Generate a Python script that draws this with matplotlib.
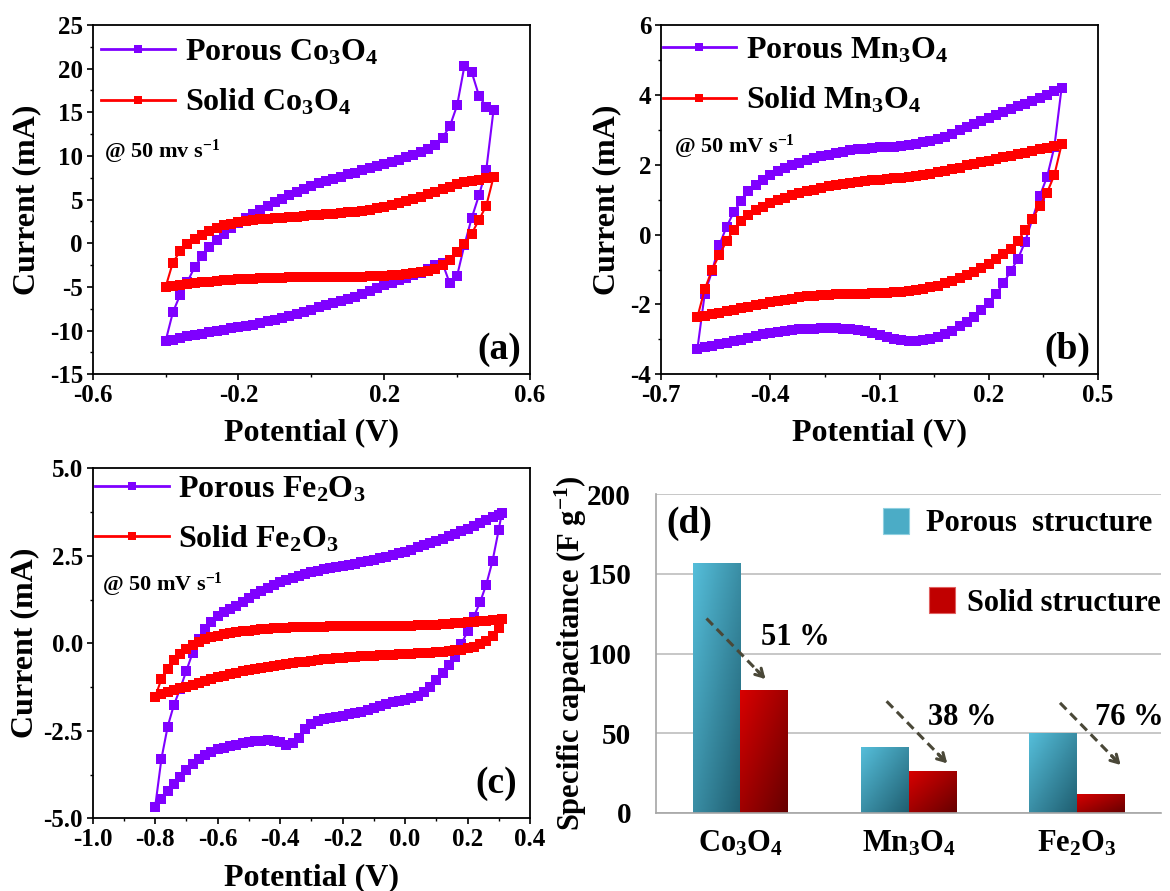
import numpy as np
import matplotlib
matplotlib.use('Agg')
import matplotlib.pyplot as plt
from matplotlib.ticker import AutoMinorLocator
from matplotlib.colors import LinearSegmentedColormap
from matplotlib.patches import Rectangle

plt.rcParams['font.family'] = 'Liberation Serif'
plt.rcParams['font.weight'] = 'bold'
plt.rcParams['axes.labelweight'] = 'bold'
plt.rcParams['mathtext.fontset'] = 'custom'
plt.rcParams['mathtext.rm'] = 'Liberation Serif:bold'
plt.rcParams['mathtext.it'] = 'Liberation Serif:bold'
plt.rcParams['mathtext.bf'] = 'Liberation Serif:bold'
plt.rcParams['axes.unicode_minus'] = False

# %% data
# (a) Co3O4 CV, potential grid (V) and current (mA): forward sweep and return sweep
E_a = [-0.40, -0.38, -0.36, -0.34, -0.32, -0.30, -0.28, -0.26, -0.24, -0.22,
       -0.20, -0.18, -0.16, -0.14, -0.12, -0.10, -0.08, -0.06, -0.04, -0.02,
       0.00, 0.02, 0.04, 0.06, 0.08, 0.10, 0.12, 0.14, 0.16, 0.18,
       0.20, 0.22, 0.24, 0.26, 0.28, 0.30, 0.32, 0.34, 0.36, 0.38,
       0.40, 0.42, 0.44, 0.46, 0.48, 0.50]
porous_co_fwd = [-11.2, -7.9, -5.9, -4.4, -2.7, -1.5, -0.45, 0.38, 1.05, 1.7,
                 2.3, 2.85, 3.4, 3.85, 4.25, 4.7, 5.1, 5.5, 5.9, 6.25,
                 6.6, 6.9, 7.15, 7.4, 7.65, 7.9, 8.1, 8.35, 8.6, 8.85,
                 9.1, 9.3, 9.55, 9.85, 10.15, 10.45, 10.8, 11.3, 12.1, 13.4,
                 15.8, 20.3, 19.6, 16.9, 15.6, 15.3]
porous_co_rev = [-11.2, -11.05, -10.85, -10.65, -10.5, -10.35, -10.2, -10.05, -9.9, -9.75,
                 -9.6, -9.45, -9.3, -9.15, -8.95, -8.75, -8.55, -8.35, -8.1, -7.85,
                 -7.6, -7.35, -7.1, -6.85, -6.6, -6.35, -6.1, -5.8, -5.45, -5.1,
                 -4.8, -4.5, -4.2, -3.95, -3.65, -3.35, -2.95, -2.45, -2.3, -4.6,
                 -3.7, -0.2, 2.9, 5.5, 8.4, 15.3]
solid_co_fwd = [-5.0, -2.2, -0.9, -0.1, 0.5, 1.0, 1.42, 1.77, 2.05, 2.25,
                2.43, 2.58, 2.67, 2.75, 2.83, 2.9, 2.95, 3.0, 3.05, 3.12,
                3.2, 3.27, 3.34, 3.4, 3.47, 3.53, 3.6, 3.68, 3.85, 4.03,
                4.2, 4.37, 4.6, 4.85, 5.1, 5.35, 5.6, 5.9, 6.2, 6.5,
                6.8, 7.0, 7.15, 7.3, 7.45, 7.6]
solid_co_rev = [-5.0, -4.85, -4.72, -4.62, -4.52, -4.45, -4.38, -4.3, -4.24, -4.18,
                -4.13, -4.08, -4.04, -4.0, -3.97, -3.95, -3.93, -3.91, -3.9, -3.89,
                -3.88, -3.88, -3.88, -3.88, -3.87, -3.86, -3.85, -3.83, -3.8, -3.76,
                -3.72, -3.66, -3.6, -3.52, -3.42, -3.3, -3.15, -2.9, -2.5, -1.95,
                -1.0, -0.1, 1.1, 2.7, 4.3, 7.6]

# (b) Mn3O4 CV
E_b = [-0.60, -0.58, -0.56, -0.54, -0.52, -0.50, -0.48, -0.46, -0.44, -0.42,
       -0.40, -0.38, -0.36, -0.34, -0.32, -0.30, -0.28, -0.26, -0.24, -0.22,
       -0.20, -0.18, -0.16, -0.14, -0.12, -0.10, -0.08, -0.06, -0.04, -0.02,
       0.00, 0.02, 0.04, 0.06, 0.08, 0.10, 0.12, 0.14, 0.16, 0.18,
       0.20, 0.22, 0.24, 0.26, 0.28, 0.30, 0.32, 0.34, 0.36, 0.38, 0.40]
porous_mn_fwd = [-3.27, -1.7, -1.05, -0.3, 0.22, 0.65, 0.96, 1.24, 1.42, 1.57,
                 1.71, 1.82, 1.91, 1.99, 2.06, 2.13, 2.19, 2.24, 2.29, 2.33,
                 2.37, 2.41, 2.44, 2.46, 2.48, 2.5, 2.51, 2.52, 2.54, 2.57,
                 2.6, 2.64, 2.69, 2.74, 2.8, 2.88, 2.98, 3.07, 3.17, 3.26,
                 3.34, 3.43, 3.51, 3.59, 3.67, 3.75, 3.83, 3.92, 4.0, 4.1, 4.2]
porous_mn_rev = [-3.27, -3.23, -3.19, -3.14, -3.1, -3.06, -3.02, -2.96, -2.9, -2.86,
                 -2.83, -2.8, -2.77, -2.74, -2.71, -2.7, -2.69, -2.68, -2.68, -2.68,
                 -2.69, -2.7, -2.73, -2.77, -2.82, -2.87, -2.93, -2.98, -3.02, -3.04,
                 -3.04, -3.03, -3.0, -2.94, -2.86, -2.75, -2.63, -2.5, -2.35, -2.17,
                 -1.95, -1.7, -1.4, -1.05, -0.7, -0.2, 0.45, 1.1, 1.65, 2.5, 4.2]
solid_mn_fwd = [-2.36, -1.57, -1.01, -0.58, -0.19, 0.14, 0.4, 0.56, 0.69, 0.8,
                0.9, 0.98, 1.05, 1.12, 1.18, 1.24, 1.29, 1.34, 1.38, 1.42,
                1.45, 1.48, 1.51, 1.53, 1.55, 1.57, 1.59, 1.61, 1.63, 1.65,
                1.68, 1.71, 1.74, 1.78, 1.83, 1.87, 1.92, 1.98, 2.03, 2.08,
                2.12, 2.17, 2.22, 2.26, 2.3, 2.34, 2.39, 2.44, 2.49, 2.54, 2.58]
solid_mn_rev = [-2.36, -2.32, -2.28, -2.24, -2.2, -2.15, -2.1, -2.06, -2.02, -1.98,
                -1.94, -1.9, -1.86, -1.83, -1.8, -1.77, -1.75, -1.73, -1.72, -1.71,
                -1.7, -1.7, -1.69, -1.69, -1.68, -1.67, -1.66, -1.65, -1.63, -1.61,
                -1.58, -1.55, -1.51, -1.46, -1.4, -1.33, -1.25, -1.16, -1.06, -0.95,
                -0.83, -0.7, -0.55, -0.4, -0.18, 0.13, 0.45, 0.82, 1.2, 1.7, 2.58]

# (c) Fe2O3 CV
E_c = [-0.80, -0.78, -0.76, -0.74, -0.72, -0.70, -0.68, -0.66, -0.64, -0.62,
       -0.60, -0.58, -0.56, -0.54, -0.52, -0.50, -0.48, -0.46, -0.44, -0.42,
       -0.40, -0.38, -0.36, -0.34, -0.32, -0.30, -0.28, -0.26, -0.24, -0.22,
       -0.20, -0.18, -0.16, -0.14, -0.12, -0.10, -0.08, -0.06, -0.04, -0.02,
       0.00, 0.02, 0.04, 0.06, 0.08, 0.10, 0.12, 0.14, 0.16, 0.18,
       0.20, 0.22, 0.24, 0.26, 0.28, 0.30, 0.31]
porous_fe_fwd = [-4.67, -3.3, -2.38, -1.76, -1.3, -0.78, -0.27, 0.12, 0.41, 0.61,
                 0.78, 0.9, 0.99, 1.08, 1.17, 1.3, 1.4, 1.5, 1.59, 1.67,
                 1.74, 1.81, 1.87, 1.93, 1.98, 2.03, 2.07, 2.11, 2.15, 2.19,
                 2.22, 2.25, 2.28, 2.31, 2.35, 2.39, 2.43, 2.47, 2.52, 2.57,
                 2.62, 2.68, 2.74, 2.8, 2.86, 2.92, 2.99, 3.06, 3.13, 3.2,
                 3.28, 3.36, 3.44, 3.52, 3.6, 3.68, 3.73]
porous_fe_rev = [-4.67, -4.45, -4.23, -4.02, -3.82, -3.63, -3.45, -3.3, -3.19, -3.1,
                 -3.03, -2.98, -2.94, -2.9, -2.86, -2.83, -2.8, -2.78, -2.77, -2.78,
                 -2.82, -2.9, -2.86, -2.7, -2.45, -2.3, -2.22, -2.17, -2.13, -2.1,
                 -2.07, -2.03, -1.99, -1.95, -1.91, -1.86, -1.8, -1.74, -1.69, -1.65,
                 -1.61, -1.57, -1.51, -1.4, -1.25, -1.06, -0.84, -0.62, -0.38, -0.02,
                 0.34, 0.76, 1.17, 1.68, 2.35, 3.25, 3.73]
solid_fe_fwd = [-1.53, -1.02, -0.72, -0.47, -0.3, -0.17, -0.06, 0.04, 0.11, 0.17,
                0.22, 0.26, 0.29, 0.32, 0.34, 0.36, 0.38, 0.4, 0.42, 0.43,
                0.44, 0.45, 0.46, 0.47, 0.47, 0.48, 0.48, 0.48, 0.49, 0.49,
                0.49, 0.49, 0.49, 0.49, 0.49, 0.49, 0.49, 0.49, 0.49, 0.49,
                0.49, 0.5, 0.51, 0.52, 0.52, 0.53, 0.55, 0.56, 0.58, 0.59,
                0.6, 0.62, 0.63, 0.65, 0.66, 0.68, 0.7]
solid_fe_rev = [-1.53, -1.46, -1.4, -1.34, -1.29, -1.24, -1.18, -1.13, -1.07, -1.02,
                -0.97, -0.92, -0.88, -0.84, -0.8, -0.77, -0.73, -0.7, -0.67, -0.64,
                -0.61, -0.59, -0.56, -0.54, -0.52, -0.5, -0.48, -0.46, -0.44, -0.43,
                -0.41, -0.4, -0.38, -0.37, -0.36, -0.35, -0.34, -0.33, -0.32, -0.31,
                -0.31, -0.3, -0.29, -0.28, -0.27, -0.26, -0.24, -0.22, -0.2, -0.18,
                -0.14, -0.1, -0.03, 0.08, 0.2, 0.45, 0.7]

# (d) specific capacitance (F/g)
materials = ['Co$_3$O$_4$', 'Mn$_3$O$_4$', 'Fe$_2$O$_3$']
porous_cap = [157, 41, 50]
solid_cap = [77, 26, 12]
drop_labels = ['51 %', '38 %', '76 %']
arrow_from = [(-0.20, 122), (0.87, 70), (1.90, 69)]
arrow_to = [(0.15, 84), (1.23, 31), (2.26, 30)]
drop_label_pos = [(0.33, 110), (1.32, 60), (2.31, 60)]

# %% styling
purple = '#7F00FF'
red = '#FF0000'
W, H = 1170, 891


def px_axes(left, top, right, bottom):
    return fig.add_axes([left / W, 1 - bottom / H, (right - left) / W, (bottom - top) / H])


def draw_cv(ax, E, fwd, rev, color, label):
    x = E + E[::-1]
    y = fwd + rev[::-1]
    ax.plot(x, y, color=color, lw=1.5, marker='s', ms=7.5, mew=0, label=label)


def style_cv(ax, xlim, xticks, xlabels, ylim, yticks, ylabels, ylab_x, xlab_y):
    ax.set_xlim(xlim)
    ax.set_ylim(ylim)
    ax.set_xticks(xticks, xlabels)
    ax.set_yticks(yticks, ylabels)
    ax.xaxis.set_minor_locator(AutoMinorLocator(2))
    ax.yaxis.set_minor_locator(AutoMinorLocator(2))
    ax.tick_params(which='major', direction='out', length=4, width=1.2, labelsize=18, pad=3)
    ax.tick_params(which='minor', direction='out', length=2.2, width=1.0)
    for sp in ax.spines.values():
        sp.set_linewidth(1.3)
    ax.set_xlabel('Potential (V)', fontsize=23)
    ax.set_ylabel('Current (mA)', fontsize=23)
    ax.xaxis.label.set_va('center')
    ax.yaxis.label.set_va('center')
    ax.xaxis.set_label_coords(0.5, xlab_y)
    ax.yaxis.set_label_coords(ylab_x, 0.5)


def cv_legend(ax, x0, y0):
    leg = ax.legend(loc='upper left', bbox_to_anchor=(x0, y0), frameon=False, fontsize=23,
                    handlelength=2.3, handletextpad=0.3, labelspacing=0.62, borderpad=0,
                    borderaxespad=0, numpoints=1, markerscale=0.85)
    for ln in leg.get_lines():
        ln.set_linewidth(2.0)


fig = plt.figure(figsize=(W / 100, H / 100), dpi=100)

# (a)
ax = px_axes(92.7, 25, 530, 374.3)
draw_cv(ax, E_a, porous_co_fwd, porous_co_rev, purple, 'Porous Co$_3$O$_4$')
draw_cv(ax, E_a, solid_co_fwd, solid_co_rev, red, 'Solid Co$_3$O$_4$')
style_cv(ax, (-0.6, 0.6), [-0.6, -0.2, 0.2, 0.6], ['-0.6', '-0.2', '0.2', '0.6'],
         (-15, 25), [-15, -10, -5, 0, 5, 10, 15, 20, 25],
         ['-15', '-10', '-5', '0', '5', '10', '15', '20', '25'], -0.150, -0.168)
cv_legend(ax, 0.02, 0.963)
ax.text(0.025, 0.637, '@ 50 mv s$^{-1}$', transform=ax.transAxes, fontsize=16, va='center')
ax.text(0.929, 0.07, '(a)', transform=ax.transAxes, fontsize=27, ha='center', va='center')

# (b)
ax = px_axes(661, 25, 1098, 374.3)
draw_cv(ax, E_b, porous_mn_fwd, porous_mn_rev, purple, 'Porous Mn$_3$O$_4$')
draw_cv(ax, E_b, solid_mn_fwd, solid_mn_rev, red, 'Solid Mn$_3$O$_4$')
style_cv(ax, (-0.7, 0.5), [-0.7, -0.4, -0.1, 0.2, 0.5], ['-0.7', '-0.4', '-0.1', '0.2', '0.5'],
         (-4, 6), [-4, -2, 0, 2, 4, 6], ['-4', '-2', '0', '2', '4', '6'], -0.125, -0.168)
cv_legend(ax, 0.004, 0.968)
ax.text(0.03, 0.651, '@ 50 mV s$^{-1}$', transform=ax.transAxes, fontsize=16, va='center')
ax.text(0.929, 0.07, '(b)', transform=ax.transAxes, fontsize=27, ha='center', va='center')

# (c)
ax = px_axes(92.7, 468.3, 530, 818.3)
draw_cv(ax, E_c, porous_fe_fwd, porous_fe_rev, purple, 'Porous Fe$_2$O$_3$')
draw_cv(ax, E_c, solid_fe_fwd, solid_fe_rev, red, 'Solid Fe$_2$O$_3$')
style_cv(ax, (-1.0, 0.4), [-1.0, -0.8, -0.6, -0.4, -0.2, 0.0, 0.2, 0.4],
         ['-1.0', '-0.8', '-0.6', '-0.4', '-0.2', '0.0', '0.2', '0.4'],
         (-5, 5), [-5, -2.5, 0, 2.5, 5], ['-5.0', '-2.5', '0.0', '2.5', '5.0'], -0.156, -0.171)
cv_legend(ax, 0.006, 0.982)
ax.text(0.021, 0.667, '@ 50 mV s$^{-1}$', transform=ax.transAxes, fontsize=16, va='center')
ax.text(0.922, 0.10, '(c)', transform=ax.transAxes, fontsize=27, ha='center', va='center')

# (d)
ax = px_axes(656, 494.3, 1161, 812.7)
xpos = np.arange(len(materials))
bw = 0.283
bars_p = ax.bar(xpos - bw / 2, porous_cap, bw, zorder=2)
bars_s = ax.bar(xpos + bw / 2, solid_cap, bw, zorder=2)

u = np.linspace(0, 1, 64)
grad = (u[None, :] + (1 - u)[:, None]) / 2
cm_p = LinearSegmentedColormap.from_list('porous', ['#55BEDA', '#1F5E70'])
cm_s = LinearSegmentedColormap.from_list('solid', ['#D80000', '#660000'])
for bars, cm in [(bars_p, cm_p), (bars_s, cm_s)]:
    for b in bars:
        x0, y0, w, h = b.get_x(), b.get_y(), b.get_width(), b.get_height()
        im = ax.imshow(grad, cmap=cm, extent=(x0, x0 + w, y0, y0 + h), origin='lower',
                       aspect='auto', zorder=2.1)
        im.set_clip_path(b)
        b.set_facecolor('none')
        b.set_edgecolor('none')

ax.set_xlim(-0.5, 2.5)
ax.set_ylim(0, 200)
ax.set_yticks([0, 50, 100, 150, 200])
ax.set_xticks(xpos, materials)
ax.tick_params(axis='both', length=0)
ax.tick_params(axis='y', pad=18, labelsize=21)
ax.tick_params(axis='x', pad=12, labelsize=22)
ax.grid(axis='y', color='#BDBDBD', lw=1.2, zorder=0)
ax.set_axisbelow(True)
for s in ['top', 'right']:
    ax.spines[s].set_visible(False)
for s in ['left', 'bottom']:
    ax.spines[s].set_color('#A6A6A6')
    ax.spines[s].set_linewidth(1.2)
ax.set_ylabel('Specific capacitance (F g$^{-1}$)', fontsize=22)
ax.yaxis.label.set_va('center')
ax.yaxis.set_label_coords(-0.169, 0.5)

ac = '#4A4838'
for (x0, y0), (x1, y1) in zip(arrow_from, arrow_to):
    ax.plot([x0, x1], [y0, y1], color=ac, lw=2.2, ls=(0, (3, 1.8)), zorder=3)
    ax.annotate('', xy=(x1, y1), xytext=(x0 + 0.85 * (x1 - x0), y0 + 0.85 * (y1 - y0)),
                arrowprops=dict(arrowstyle='->,head_length=0.55,head_width=0.32', color=ac,
                                lw=2.2, shrinkA=0, shrinkB=0), zorder=3)
for (tx, ty), lab in zip(drop_label_pos, drop_labels):
    ax.text(tx, ty, lab, fontsize=22, ha='center', va='center', zorder=4)

ax.add_patch(Rectangle((0.450, 0.875), 0.051, 0.081, transform=ax.transAxes,
                       facecolor='#4BACC6', edgecolor='#8FD0E0', lw=0.8, clip_on=False))
ax.text(0.534, 0.909, 'Porous  structure', transform=ax.transAxes, fontsize=22, va='center')
ax.add_patch(Rectangle((0.540, 0.626), 0.053, 0.082, transform=ax.transAxes,
                       facecolor='#C00000', edgecolor='#E06060', lw=0.8, clip_on=False))
ax.text(0.616, 0.658, 'Solid structure', transform=ax.transAxes, fontsize=22, va='center')
ax.text(0.065, 0.907, '(d)', transform=ax.transAxes, fontsize=27, ha='center', va='center')

fig.savefig('out.png', dpi=100)
